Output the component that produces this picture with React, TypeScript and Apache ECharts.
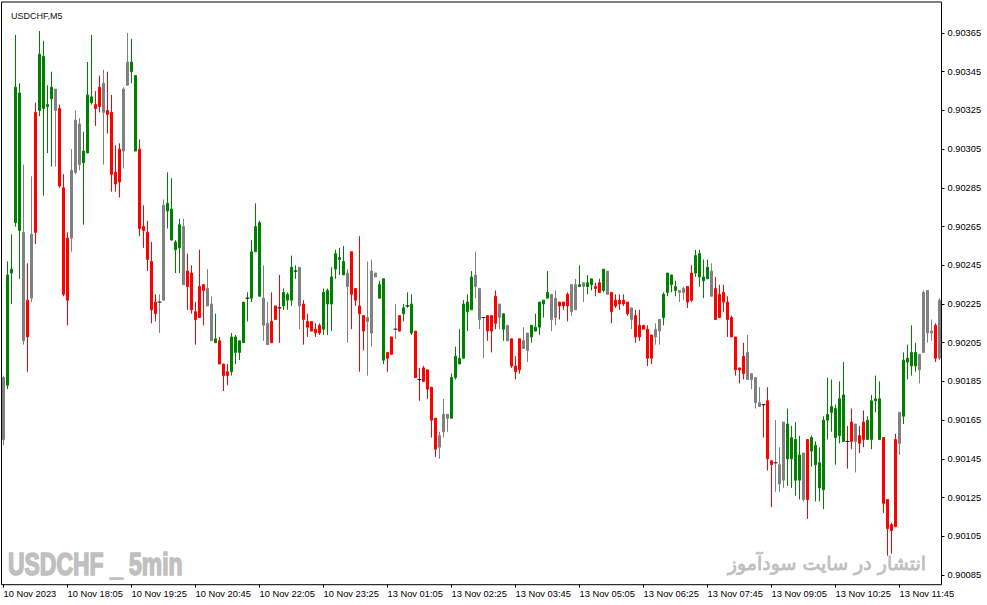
import React, { useEffect, useRef } from "react";
import * as echarts from "echarts";

// tones used by the indicator colouring the bars
const TONES: Record<string, string> = { g: "#008000", r: "#ff0000", n: "#808080" };

// [open, close, low, high, tone]  -- 10 Nov, from 16:45
const fridayBars: [number, number, number, number, string][] = [
  [0.90155, 0.90187, 0.90152, 0.90188, "n"],
  [0.90183, 0.9024, 0.90181, 0.90247, "g"],
  [0.90241, 0.90243, 0.90225, 0.90261, "g"],
  [0.90267, 0.90337, 0.90265, 0.90364, "g"],
  [0.90334, 0.90263, 0.90238, 0.90339, "g"],
  [0.90262, 0.90206, 0.90204, 0.90297, "n"],
  [0.90208, 0.90227, 0.9019, 0.90246, "r"],
  [0.90228, 0.90261, 0.90226, 0.90291, "n"],
  [0.90262, 0.90324, 0.90256, 0.90329, "r"],
  [0.90325, 0.90354, 0.90322, 0.90366, "g"],
  [0.90353, 0.90326, 0.90281, 0.90361, "g"],
  [0.90327, 0.90328, 0.90303, 0.90338, "g"],
  [0.90331, 0.90337, 0.90296, 0.90345, "g"],
  [0.90336, 0.90325, 0.90296, 0.90336, "n"],
  [0.90326, 0.90286, 0.90285, 0.90328, "r"],
  [0.90285, 0.9023, 0.90229, 0.90292, "r"],
  [0.90227, 0.90259, 0.90214, 0.90262, "r"],
  [0.90259, 0.90294, 0.90252, 0.90305, "n"],
  [0.90293, 0.9032, 0.90292, 0.90325, "n"],
  [0.90318, 0.90297, 0.90294, 0.90321, "n"],
  [0.90298, 0.90304, 0.90266, 0.90314, "g"],
  [0.90303, 0.90333, 0.90303, 0.9035, "g"],
  [0.90332, 0.90329, 0.90328, 0.90364, "g"],
  [0.90328, 0.90326, 0.90317, 0.90335, "r"],
  [0.90327, 0.90337, 0.90324, 0.90343, "r"],
  [0.90339, 0.90324, 0.90297, 0.90346, "n"],
  [0.90325, 0.90323, 0.90313, 0.90345, "r"],
  [0.90324, 0.90292, 0.90283, 0.90333, "r"],
  [0.90293, 0.90287, 0.90283, 0.90307, "r"],
  [0.90288, 0.90305, 0.9028, 0.90308, "r"],
  [0.90304, 0.90336, 0.90295, 0.90337, "n"],
  [0.90338, 0.9035, 0.90338, 0.90365, "n"],
  [0.9035, 0.90345, 0.90339, 0.90362, "g"],
  [0.90343, 0.90304, 0.90304, 0.90343, "g"],
  [0.90305, 0.90264, 0.9026, 0.9031, "r"],
  [0.90265, 0.90263, 0.90254, 0.90276, "r"],
  [0.90262, 0.90248, 0.90242, 0.90268, "r"],
  [0.90247, 0.90222, 0.90215, 0.90257, "r"],
  [0.9022, 0.90226, 0.90216, 0.9023, "r"],
  [0.90226, 0.90226, 0.9021, 0.9023, "n"],
  [0.90227, 0.90276, 0.90227, 0.90279, "n"],
  [0.90277, 0.90273, 0.90264, 0.90293, "g"],
  [0.90274, 0.90258, 0.90258, 0.9029, "g"],
  [0.90257, 0.90253, 0.90241, 0.90258, "g"],
  [0.90254, 0.90266, 0.90241, 0.90269, "g"],
  [0.90265, 0.90235, 0.90235, 0.90269, "n"],
  [0.90234, 0.90242, 0.90222, 0.90251, "r"],
  [0.90241, 0.90222, 0.9022, 0.90245, "r"],
  [0.90221, 0.90217, 0.90204, 0.90226, "r"],
  [0.90218, 0.90234, 0.90218, 0.90253, "r"],
  [0.90235, 0.90232, 0.90214, 0.90235, "r"],
  [0.90233, 0.90224, 0.90224, 0.90243, "n"],
  [0.90225, 0.90206, 0.90206, 0.90229, "n"],
  [0.90205, 0.90207, 0.90205, 0.9022, "g"],
  [0.90206, 0.90194, 0.90194, 0.90208, "r"],
  [0.90194, 0.90188, 0.9018, 0.90194, "r"],
  [0.90188, 0.9019, 0.90183, 0.90194, "r"],
  [0.9019, 0.90208, 0.90188, 0.9021, "g"],
  [0.90208, 0.902, 0.90194, 0.90209, "g"],
  [0.902, 0.90206, 0.90196, 0.90206, "g"],
  [0.90205, 0.90226, 0.90205, 0.90226, "g"],
  [0.90228, 0.90228, 0.90216, 0.90231, "g"],
  [0.90228, 0.90252, 0.90226, 0.90258, "g"],
  [0.90252, 0.90265, 0.90252, 0.90277, "g"],
  [0.90267, 0.90229, 0.90229, 0.90268, "g"],
  [0.90228, 0.90214, 0.90206, 0.90245, "n"],
  [0.90215, 0.90204, 0.90204, 0.90226, "n"],
  [0.90205, 0.90216, 0.90205, 0.90231, "r"],
  [0.90217, 0.90224, 0.90217, 0.90224, "r"],
  [0.90223, 0.90223, 0.90205, 0.9024, "r"],
  [0.90224, 0.90231, 0.90222, 0.90233, "g"],
  [0.9023, 0.90227, 0.90222, 0.90231, "g"],
  [0.90227, 0.90244, 0.90224, 0.9025, "g"],
  [0.90242, 0.90242, 0.90238, 0.90245, "g"],
  [0.90244, 0.90224, 0.90212, 0.90244, "n"],
  [0.90225, 0.90217, 0.90204, 0.90227, "r"],
  [0.90216, 0.90213, 0.90208, 0.9022, "r"],
  [0.90216, 0.90211, 0.90211, 0.90216, "r"],
  [0.90212, 0.9021, 0.90208, 0.90215, "r"],
  [0.9021, 0.90214, 0.90209, 0.90215, "r"],
  [0.90212, 0.90231, 0.90209, 0.90233, "g"],
  [0.90232, 0.90225, 0.90209, 0.90233, "g"],
  [0.90225, 0.90239, 0.90211, 0.90244, "g"],
  [0.90243, 0.90251, 0.90238, 0.90253, "g"],
  [0.90249, 0.90248, 0.9024, 0.90254, "g"],
  [0.90247, 0.9024, 0.9024, 0.90255, "g"],
  [0.90241, 0.90234, 0.90205, 0.90243, "n"],
];

// 13 Nov, from 00:20
const mondayBars: [number, number, number, number, string][] = [
  [0.9023, 0.90252, 0.90212, 0.90252, "r"],
  [0.90233, 0.90227, 0.90224, 0.90233, "r"],
  [0.90224, 0.9022, 0.9019, 0.9026, "r"],
  [0.90219, 0.90211, 0.90201, 0.90219, "r"],
  [0.90216, 0.90218, 0.90188, 0.90247, "n"],
  [0.9021, 0.90242, 0.90203, 0.90248, "n"],
  [0.90241, 0.90239, 0.90239, 0.90241, "n"],
  [0.90235, 0.90228, 0.90228, 0.90237, "g"],
  [0.90238, 0.90196, 0.90194, 0.90238, "g"],
  [0.90197, 0.902, 0.9019, 0.902, "r"],
  [0.90199, 0.90208, 0.90199, 0.90208, "r"],
  [0.90212, 0.90212, 0.90207, 0.90225, "n"],
  [0.90211, 0.90219, 0.90211, 0.90219, "r"],
  [0.9022, 0.90223, 0.90216, 0.90225, "g"],
  [0.90224, 0.90224, 0.90223, 0.90231, "g"],
  [0.90225, 0.9021, 0.90209, 0.9023, "g"],
  [0.90211, 0.90187, 0.90187, 0.90211, "r"],
  [0.90186, 0.90186, 0.90175, 0.90192, "r"],
  [0.90185, 0.90192, 0.90185, 0.90193, "r"],
  [0.90191, 0.90181, 0.90176, 0.90191, "r"],
  [0.90182, 0.90165, 0.90156, 0.90182, "r"],
  [0.90166, 0.9015, 0.90146, 0.90166, "r"],
  [0.90151, 0.90157, 0.90145, 0.90159, "n"],
  [0.90159, 0.90168, 0.90156, 0.90176, "n"],
  [0.90168, 0.90166, 0.90159, 0.90168, "n"],
  [0.90166, 0.90187, 0.90166, 0.90189, "g"],
  [0.90187, 0.90198, 0.90186, 0.90203, "g"],
  [0.90197, 0.90194, 0.90194, 0.90212, "g"],
  [0.90197, 0.90225, 0.90197, 0.90227, "g"],
  [0.90226, 0.90221, 0.90211, 0.9023, "g"],
  [0.90222, 0.90239, 0.90222, 0.90242, "g"],
  [0.9024, 0.90234, 0.90228, 0.90252, "n"],
  [0.90233, 0.90217, 0.90212, 0.90233, "n"],
  [0.90218, 0.90218, 0.90197, 0.90218, "n"],
  [0.90219, 0.90211, 0.90206, 0.90219, "r"],
  [0.90211, 0.90219, 0.902, 0.90219, "r"],
  [0.90215, 0.90229, 0.90212, 0.90232, "r"],
  [0.90225, 0.90218, 0.90212, 0.90225, "n"],
  [0.9022, 0.90212, 0.90206, 0.9022, "g"],
  [0.90214, 0.90206, 0.90206, 0.90214, "n"],
  [0.90207, 0.90193, 0.90192, 0.90207, "r"],
  [0.90193, 0.9019, 0.90186, 0.90198, "r"],
  [0.90191, 0.90207, 0.90189, 0.90207, "r"],
  [0.90206, 0.90202, 0.90202, 0.90213, "n"],
  [0.90201, 0.9021, 0.90195, 0.9021, "n"],
  [0.90208, 0.90214, 0.90205, 0.90214, "g"],
  [0.90213, 0.90211, 0.90211, 0.9022, "g"],
  [0.90213, 0.90226, 0.90209, 0.90226, "g"],
  [0.90225, 0.90227, 0.90218, 0.90227, "g"],
  [0.90228, 0.90231, 0.90228, 0.90242, "g"],
  [0.9023, 0.90217, 0.90211, 0.9023, "n"],
  [0.90218, 0.90228, 0.90214, 0.90232, "n"],
  [0.90226, 0.90224, 0.90217, 0.90226, "r"],
  [0.90224, 0.90226, 0.90222, 0.90226, "r"],
  [0.90224, 0.9023, 0.90216, 0.90231, "r"],
  [0.90221, 0.90235, 0.90219, 0.90235, "n"],
  [0.90235, 0.90222, 0.90222, 0.90238, "n"],
  [0.90234, 0.90235, 0.90234, 0.90245, "g"],
  [0.90236, 0.90234, 0.90226, 0.90236, "n"],
  [0.90234, 0.90236, 0.9023, 0.9024, "g"],
  [0.90235, 0.90238, 0.90232, 0.90238, "g"],
  [0.90234, 0.90233, 0.90229, 0.90236, "r"],
  [0.90231, 0.90236, 0.90231, 0.90238, "r"],
  [0.90232, 0.90243, 0.90231, 0.90243, "g"],
  [0.90242, 0.9023, 0.9023, 0.90242, "n"],
  [0.90231, 0.90221, 0.90215, 0.90231, "r"],
  [0.90224, 0.90227, 0.90223, 0.9023, "r"],
  [0.90227, 0.90225, 0.90222, 0.9023, "r"],
  [0.90225, 0.90227, 0.90224, 0.9023, "r"],
  [0.90226, 0.9022, 0.90219, 0.90226, "r"],
  [0.90223, 0.90217, 0.90212, 0.90223, "n"],
  [0.90219, 0.90208, 0.90205, 0.90222, "r"],
  [0.90208, 0.90214, 0.90206, 0.90222, "r"],
  [0.90214, 0.90212, 0.90212, 0.90214, "r"],
  [0.90212, 0.90197, 0.90193, 0.90214, "r"],
  [0.90197, 0.90209, 0.90194, 0.90209, "r"],
  [0.90208, 0.90212, 0.90204, 0.90215, "n"],
  [0.90211, 0.90217, 0.90204, 0.90217, "n"],
  [0.90218, 0.9023, 0.90214, 0.90231, "g"],
  [0.90231, 0.90241, 0.90229, 0.90241, "g"],
  [0.9024, 0.90235, 0.90231, 0.9024, "g"],
  [0.90234, 0.90232, 0.90229, 0.90237, "g"],
  [0.90232, 0.90231, 0.90226, 0.90232, "n"],
  [0.90231, 0.90233, 0.90227, 0.90234, "n"],
  [0.90234, 0.90226, 0.90223, 0.90234, "r"],
  [0.90227, 0.90241, 0.90226, 0.90245, "r"],
  [0.90241, 0.9025, 0.90239, 0.90253, "g"],
  [0.90251, 0.90239, 0.90234, 0.90253, "g"],
  [0.90239, 0.90237, 0.90228, 0.90248, "g"],
  [0.90238, 0.90244, 0.90238, 0.90248, "g"],
  [0.90242, 0.90229, 0.90229, 0.90246, "n"],
  [0.90233, 0.90217, 0.90217, 0.90239, "r"],
  [0.90218, 0.9023, 0.90218, 0.90235, "r"],
  [0.90231, 0.90226, 0.90221, 0.90235, "r"],
  [0.90226, 0.90217, 0.90208, 0.90229, "r"],
  [0.90218, 0.90208, 0.90208, 0.90219, "r"],
  [0.90208, 0.90191, 0.90188, 0.90208, "r"],
  [0.90192, 0.90191, 0.90184, 0.90192, "r"],
  [0.90189, 0.90198, 0.90186, 0.90205, "r"],
  [0.902, 0.90186, 0.90186, 0.90209, "n"],
  [0.90186, 0.90189, 0.90181, 0.90189, "n"],
  [0.90187, 0.90174, 0.90171, 0.90187, "n"],
  [0.90174, 0.90172, 0.90172, 0.90182, "n"],
  [0.90173, 0.90173, 0.90156, 0.90173, "r"],
  [0.90175, 0.90145, 0.90139, 0.90182, "r"],
  [0.90144, 0.90142, 0.9012, 0.90144, "r"],
  [0.90143, 0.90143, 0.90128, 0.90165, "n"],
  [0.90142, 0.90132, 0.90128, 0.90151, "n"],
  [0.90134, 0.90164, 0.9013, 0.90164, "n"],
  [0.90163, 0.90145, 0.90131, 0.90171, "g"],
  [0.90145, 0.90156, 0.9013, 0.90162, "g"],
  [0.90155, 0.90134, 0.90126, 0.90164, "g"],
  [0.90134, 0.90147, 0.90124, 0.90157, "g"],
  [0.90148, 0.90124, 0.90123, 0.90148, "n"],
  [0.90124, 0.90155, 0.90114, 0.90155, "r"],
  [0.90156, 0.90149, 0.90141, 0.90157, "g"],
  [0.90152, 0.90142, 0.90123, 0.90154, "g"],
  [0.90143, 0.9013, 0.90123, 0.90151, "g"],
  [0.90129, 0.90165, 0.90119, 0.90167, "g"],
  [0.90165, 0.90168, 0.90155, 0.90187, "g"],
  [0.90169, 0.90172, 0.90159, 0.90186, "g"],
  [0.90171, 0.90156, 0.90142, 0.90173, "g"],
  [0.90157, 0.90176, 0.90153, 0.90185, "g"],
  [0.90178, 0.90154, 0.90154, 0.90195, "g"],
  [0.90154, 0.90154, 0.9014, 0.90162, "r"],
  [0.90154, 0.90164, 0.9015, 0.90171, "r"],
  [0.90163, 0.90154, 0.90138, 0.90163, "n"],
  [0.90153, 0.90157, 0.90148, 0.90162, "r"],
  [0.90155, 0.90164, 0.90151, 0.9017, "r"],
  [0.90155, 0.90165, 0.90155, 0.90167, "g"],
  [0.90155, 0.90175, 0.9015, 0.90178, "g"],
  [0.90176, 0.90175, 0.90169, 0.90188, "g"],
  [0.90176, 0.90155, 0.90155, 0.90185, "g"],
  [0.90156, 0.90122, 0.90117, 0.90156, "r"],
  [0.90124, 0.90109, 0.90095, 0.90124, "r"],
  [0.90108, 0.90111, 0.90096, 0.90112, "r"],
  [0.9011, 0.90155, 0.9011, 0.90158, "r"],
  [0.90153, 0.90169, 0.90147, 0.90169, "n"],
  [0.90167, 0.90196, 0.90163, 0.902, "g"],
  [0.90197, 0.90195, 0.90186, 0.90204, "g"],
  [0.90193, 0.902, 0.90188, 0.90214, "g"],
  [0.902, 0.90193, 0.9019, 0.90205, "g"],
  [0.90191, 0.90199, 0.90184, 0.90199, "n"],
  [0.902, 0.90231, 0.902, 0.90232, "n"],
  [0.90232, 0.9021, 0.90205, 0.90232, "n"],
  [0.9021, 0.90211, 0.90206, 0.90217, "n"],
  [0.90214, 0.90197, 0.90195, 0.90215, "r"],
  [0.90197, 0.90227, 0.90196, 0.90228, "n"],
];

const yTicks = [
  0.90085, 0.90105, 0.90125, 0.90145, 0.90165, 0.90185, 0.90205, 0.90225,
  0.90245, 0.90265, 0.90285, 0.90305, 0.90325, 0.90345, 0.90365,
];
const firstLabel = "10 Nov 2023";
const labelEvery = 16;

const session = (day: string, startMin: number, count: number) => {
  const out: string[] = [];
  for (let k = 0; k < count; k++) {
    const m = startMin + k * 5;
    const hh = String(Math.floor(m / 60)).padStart(2, "0");
    const mm = String(m % 60).padStart(2, "0");
    out.push(`${day} ${hh}:${mm}`);
  }
  return out;
};

const categories = [
  ...session("10 Nov", 16 * 60 + 45, fridayBars.length),
  ...session("13 Nov", 20, mondayBars.length),
];

const bars = [...fridayBars, ...mondayBars];

const FONT = "'Liberation Sans', Arial, sans-serif";

export default function App() {
  const chartRef = useRef<HTMLDivElement>(null);

  useEffect(() => {
    const chart = echarts.init(chartRef.current, null, { renderer: "svg" });

    const candleData = bars.map(([o, c, l, h, t]) => {
      const col = TONES[t];
      return {
        value: [o, c, l, h],
        itemStyle: { color: col, color0: col, borderColor: col, borderColor0: col },
      };
    });
    const dojis = bars
      .map((b, i) => (b[0] === b[1] ? [i, b[0]] : null))
      .filter((p) => p !== null);

    const showTick = (idx: number) => idx % labelEvery === 0;

    chart.setOption({
      animation: false,
      backgroundColor: "#fff",
      title: {
        text: "USDCHF,M5",
        left: 6,
        top: 6,
        textStyle: {
          fontSize: 9,
          fontWeight: "normal",
          color: "#111",
          fontFamily: "'Liberation Sans Narrow', " + FONT,
        },
      },
      grid: {
        left: 1.5,
        width: 940,
        top: 2,
        bottom: 20.3,
        show: true,
        borderColor: "#000",
        borderWidth: 1,
      },
      xAxis: {
        type: "category",
        data: categories,
        boundaryGap: true,
        axisLine: { show: false },
        axisTick: {
          show: true,
          alignWithLabel: true,
          interval: showTick,
          length: 3,
          lineStyle: { color: "#000" },
        },
        axisLabel: {
          interval: showTick,
          align: "left",
          margin: 5,
          fontSize: 9.3,
          fontFamily: FONT,
          color: "#000",
          formatter: (v: string, i: number) => (i === 0 ? firstLabel : v),
        },
        splitLine: { show: false },
      },
      yAxis: {
        type: "value",
        position: "right",
        min: 0.9008,
        max: 0.90381,
        axisLine: { show: false },
        axisTick: {
          show: true,
          length: 3,
          customValues: yTicks,
          lineStyle: { color: "#000" },
        },
        axisLabel: {
          customValues: yTicks,
          margin: 6,
          fontSize: 9.3,
          fontFamily: FONT,
          color: "#000",
          formatter: (v: number) => v.toFixed(5),
        },
        splitLine: { show: false },
      },
      series: [
        {
          type: "candlestick",
          data: candleData,
          barWidth: 2,
          itemStyle: { borderWidth: 1 },
        },
        {
          type: "scatter",
          data: dojis,
          symbol: "rect",
          symbolSize: [4, 1],
          itemStyle: { color: "#000" },
          z: 5,
        },
      ],
      graphic: [
        {
          type: "text",
          x: 8,
          y: 564,
          scaleX: 0.74,
          style: {
            text: "USDCHF _ 5min",
            font: "bold 31px 'Liberation Sans', Arial, sans-serif",
            fill: "#c0c0c0",
            stroke: "#c0c0c0",
            lineWidth: 1.6,
            verticalAlign: "middle",
          },
        },
        {
          type: "text",
          x: 926,
          y: 563,
          style: {
            text: "انتشار در سایت سودآموز",
            font: "19px 'DejaVu Sans', sans-serif",
            fill: "#c0c0c0",
            stroke: "#c0c0c0",
            lineWidth: 0.8,
            align: "right",
            verticalAlign: "middle",
          },
        },
      ],
    });

    return () => {
      chart.dispose();
    };
  }, []);

  return (
    <div
      ref={chartRef}
      style={{ position: "fixed", left: 0, top: 0, width: 987, height: 605 }}
    />
  );
}
